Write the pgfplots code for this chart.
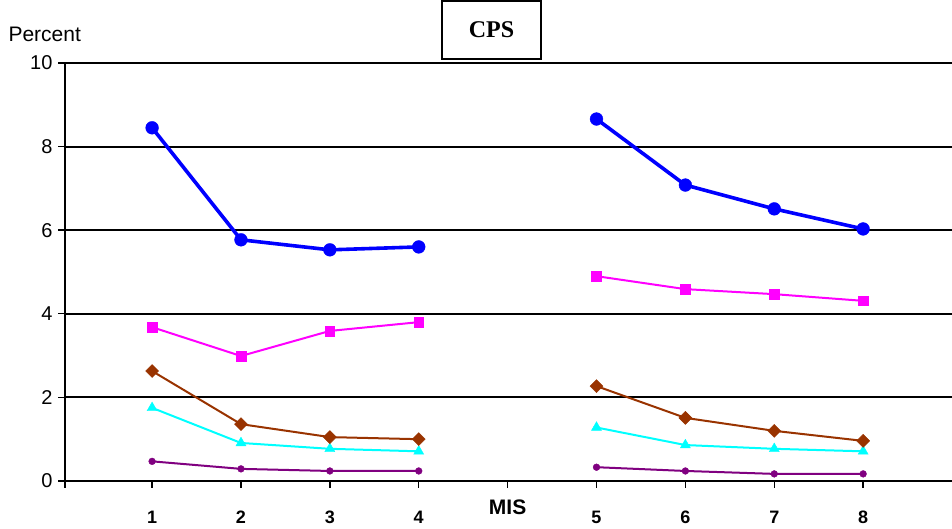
\documentclass[border=0pt]{standalone}
\usepackage{pgfplots}
\pgfplotsset{compat=1.18}
\usepackage{fontspec}
\setmainfont{Liberation Sans}
\newfontfamily\serifb{Liberation Serif}
\definecolor{cblue}{RGB}{0,0,255}
\definecolor{cmag}{RGB}{255,0,255}
\definecolor{cbrown}{RGB}{153,51,0}
\definecolor{ccyan}{RGB}{0,255,255}
\definecolor{cpurp}{RGB}{128,0,128}
\begin{document}
\begin{tikzpicture}
\useasboundingbox (-65pt,-48pt) rectangle (887pt,481pt);
\begin{axis}[
  at={(0pt,0pt)}, anchor=south west,
  scale only axis, width=887pt, height=418pt,
  xmin=0.02, xmax=10, ymin=0, ymax=10,
  axis x line=bottom, axis y line=left,
  axis line style={-, line width=2.2pt, black},
  xtick={1,2,3,4,5,6,7,8,9},
  xticklabels={1,2,3,4,\raisebox{9.5pt}{\fontsize{21}{23}\selectfont MIS},5,6,7,8},
  extra x ticks={0.02}, extra x tick labels={},
  ytick={0,2,4,6,8,10},
  yticklabels={0,2,4,6,8,10},
  tick align=outside,
  major tick length=7pt,
  tick style={line width=1.4pt, black},
  ymajorgrids,
  grid style={line width=2pt, black},
  xticklabel style={anchor=base, yshift=-36pt, font=\fontsize{18}{20}\selectfont\bfseries},
  yticklabel style={font=\fontsize{20}{22}\selectfont, xshift=-2pt},
  unbounded coords=jump,
  clip=false,
]
\addplot[cpurp, line width=2pt, mark=*, mark size=3.4pt, mark options={line width=0.4pt}] coordinates {(1,0.47) (2,0.29) (3,0.24) (4,0.24) (5,nan) (6,0.33) (7,0.24) (8,0.17) (9,0.17)};
\addplot[ccyan, line width=2pt, mark=triangle*, mark size=5.8pt, mark options={line width=0.4pt}] coordinates {(1,1.75) (2,0.91) (3,0.77) (4,0.71) (5,nan) (6,1.28) (7,0.86) (8,0.77) (9,0.71)};
\addplot[cbrown, line width=2pt, mark=square*, mark size=4.6pt, mark options={rotate=45, line width=0.4pt}] coordinates {(1,2.63) (2,1.36) (3,1.05) (4,1.00) (5,nan) (6,2.27) (7,1.51) (8,1.20) (9,0.96)};
\addplot[cmag, line width=2pt, mark=square*, mark size=4.8pt, mark options={line width=0.4pt}] coordinates {(1,3.68) (2,2.99) (3,3.59) (4,3.80) (5,nan) (6,4.90) (7,4.59) (8,4.47) (9,4.31)};
\addplot[cblue, line width=3.6pt, mark=*, mark size=6.4pt, mark options={line width=0.4pt}] coordinates {(1,8.45) (2,5.77) (3,5.53) (4,5.60) (5,nan) (6,8.66) (7,7.08) (8,6.51) (9,6.03)};
\end{axis}
\node[anchor=base west, font=\fontsize{21}{24}\selectfont] at (-60pt,439pt) {Percent};
\node[draw, line width=1.6pt, minimum width=99pt, minimum height=58pt, inner sep=0pt, font=\fontsize{24}{26}\selectfont\serifb\bfseries] at (426.5pt,451pt) {CPS};
\end{tikzpicture}
\end{document}
